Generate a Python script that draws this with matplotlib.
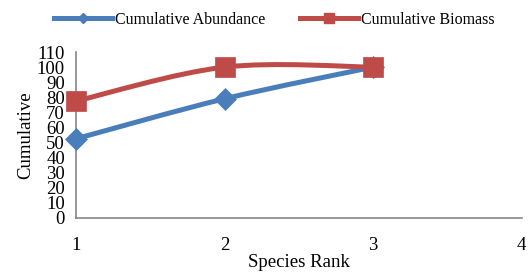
import matplotlib
matplotlib.use("Agg")
import matplotlib.pyplot as plt
from matplotlib.path import Path
from matplotlib.patches import PathPatch
from matplotlib.lines import Line2D
import numpy as np

ranks = [1, 2, 3]
abundance = [52.5, 79, 100]
biomass = [77.5, 100, 100]
yticks = list(range(0, 111, 10))
xticks = [1, 2, 3, 4]

blue = "#4A7EBB"
red = "#BE4B48"
gray = "#868686"

plt.rcParams['font.family'] = ['Liberation Serif', 'DejaVu Serif']

fig = plt.figure(figsize=(5.28, 2.73), dpi=100)
ax = fig.add_axes([0.144, 0.2015, 0.844, 0.608])


def smooth_path(xs, ys):
    pts = np.column_stack([xs, ys]).astype(float)
    n = len(pts)
    verts = [pts[0]]
    codes = [Path.MOVETO]
    for i in range(n - 1):
        p0 = pts[i - 1] if i > 0 else pts[i]
        p1 = pts[i]
        p2 = pts[i + 1]
        p3 = pts[i + 2] if i + 2 < n else pts[i + 1]
        c1 = p1 + (p2 - p0) / 6.0
        c2 = p2 - (p3 - p1) / 6.0
        verts += [c1, c2, p2]
        codes += [Path.CURVE4] * 3
    return Path(verts, codes)


z = 2
for ys, col, mk, ms in [(abundance, blue, 'D', 10.8), (biomass, red, 's', 15)]:
    patch = PathPatch(smooth_path(ranks, ys), facecolor='none', edgecolor=col,
                      lw=3.6, capstyle='butt', zorder=z)
    ax.add_patch(patch)
    ax.plot(ranks, ys, linestyle='none', marker=mk, markersize=ms, color=col,
            markeredgecolor=col, markeredgewidth=0.5, zorder=z + 1, clip_on=False)
    z += 2

ax.set_xlim(1, 4)
ax.set_ylim(0, 110)
ax.set_xticks(xticks)
ax.set_yticks(yticks)
ax.tick_params(axis='both', length=0, labelsize=13.5, colors='black')
ax.tick_params(axis='x', pad=14)
ax.tick_params(axis='y', pad=8)
for s in ['top', 'right']:
    ax.spines[s].set_visible(False)
for s in ['left', 'bottom']:
    ax.spines[s].set_color(gray)
    ax.spines[s].set_linewidth(1.2)

ax.set_xlabel("Species Rank", fontsize=13.5, labelpad=0)
ax.set_ylabel("Cumulative", fontsize=13.5, labelpad=2)

handles = [
    Line2D([], [], color=blue, lw=3.6, marker='D', markersize=5),
    Line2D([], [], color=red, lw=3.6, marker='s', markersize=7),
]
fig.legend(handles, ["Cumulative Abundance", "Cumulative Biomass"], loc='upper center',
           bbox_to_anchor=(0.52, 1.01), ncol=2, frameon=False, fontsize=11.5,
           handlelength=3.6, handletextpad=0.2, columnspacing=2.2)

fig.savefig("out.png", dpi=100)
